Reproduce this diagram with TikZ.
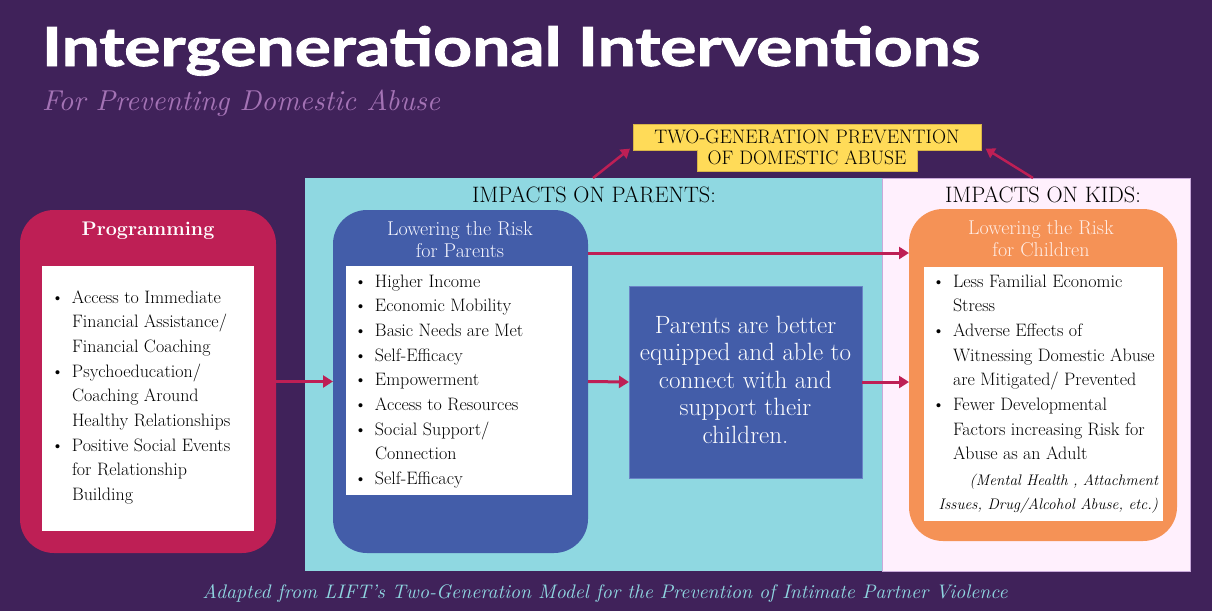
\documentclass[tikz,border=0pt]{standalone}
\usepackage{fontspec}
\usepackage{graphicx}
\usetikzlibrary{arrows.meta,calc}
\newfontfamily\titlefont{Lato}[BoldFeatures={FakeBold=1.5}]
\definecolor{bgpurple}{HTML}{40225A}
\definecolor{crimson}{HTML}{BE1F55}
\definecolor{royal}{HTML}{435DA9}
\definecolor{royaledge}{HTML}{6A84C6}
\definecolor{orangebox}{HTML}{F59256}
\definecolor{cyanpanel}{HTML}{8FD8E1}
\definecolor{pinkpanel}{HTML}{FFF0FD}
\definecolor{pinkedge}{HTML}{C9A9DA}
\definecolor{goalyellow}{HTML}{FFDB58}
\definecolor{goaledge}{HTML}{D8B548}
\definecolor{lavender}{HTML}{A473B5}
\definecolor{footcyan}{HTML}{8FD5E0}
\definecolor{kidtitle}{HTML}{FFEDE6}
\definecolor{partitle}{HTML}{F6F6FF}
\newcommand{\ctab}[1]{\begin{tabular}[t]{@{}c@{}}#1\end{tabular}}
\newcommand{\rtab}[1]{\begin{tabular}[t]{@{}r@{}}#1\end{tabular}}
\newcommand{\btab}[1]{\begin{tabular}[t]{@{}l@{}l@{}}#1\end{tabular}}
\newcommand{\bl}{\makebox[21pt][l]{\textbullet}}
\begin{document}
\begin{tikzpicture}[x=1pt,y=-1pt,
  panel/.style={anchor=north west, inner sep=0, outer sep=0},
  rbox/.style={anchor=north west, inner sep=0, outer sep=0, rounded corners=34pt},
  wbox/.style={anchor=north west, inner sep=0, outer sep=0, fill=white},
  txt/.style={inner sep=0, outer sep=0},
  listtxt/.style={txt, anchor=base west, font=\fontsize{18}{24.7}\selectfont},
  boxtitle/.style={txt, anchor=base, font=\fontsize{20}{22}\selectfont},
  conn/.style={draw=crimson, line width=3pt, -{Triangle[length=10pt,width=12pt]}},
  diag/.style={draw=crimson, line width=2.5pt, -{Triangle[length=9pt,width=11pt]}},
  goalbox/.style={fill=goalyellow, draw=goaledge, line width=0.6pt, inner sep=0}
]
\fill[bgpurple] (0,0) rectangle (1212,611);
\useasboundingbox (0,0) rectangle (1212,611);

% title
\node[txt, anchor=base west, text=white] (title) at (42,66)
  {\resizebox{938pt}{40pt}{\titlefont\bfseries Intergenerational Interventions}};
\node[txt, anchor=base west, text=lavender] (subtitle) at (42,110)
  {\resizebox{398pt}{!}{\itshape For Preventing Domestic Abuse}};

% panels
\node[panel, fill=cyanpanel, minimum width=577pt, minimum height=393pt] (ppanel) at (305,178) {};
\node[panel, fill=pinkpanel, draw=pinkedge, line width=1pt, minimum width=308pt, minimum height=393pt] (kpanel) at (882,178) {};
\node[txt, anchor=base, font=\fontsize{22.3}{24}\selectfont] (plabel) at (594,202) {IMPACTS ON PARENTS:};
\node[txt, anchor=base, font=\fontsize{22.3}{24}\selectfont] (klabel) at (1043,202) {IMPACTS ON KIDS:};

% goal
\node[goalbox, minimum width=348pt, minimum height=26pt, anchor=north west] (goal1) at (633,124) {};
\node[goalbox, minimum width=220pt, minimum height=21pt, anchor=north west] (goal2) at (697,150) {};
\fill[goalyellow] (697.5,148) rectangle (916.5,151);
\node[txt, anchor=base, font=\fontsize{19.5}{20}\selectfont] (goalt1) at (807,143) {TWO-GENERATION PREVENTION};
\node[txt, anchor=base, font=\fontsize{19.5}{20}\selectfont] (goalt2) at (807,164) {OF DOMESTIC ABUSE};

% programming
\node[rbox, fill=crimson, minimum width=256pt, minimum height=343pt] (prog) at (20,210) {};
\node[txt, anchor=base, text=white, font=\fontsize{19.7}{24}\selectfont\bfseries] (progt) at (148,235) {Programming};
\node[wbox, minimum width=212pt, minimum height=265pt] (progw) at (42,266) {};
\node[listtxt] (progl) at (51,303) {\btab{%
\bl & Access to Immediate\\
 & Financial Assistance/\\
 & Financial Coaching\\
\bl & Psychoeducation/\\
 & Coaching Around\\
 & Healthy Relationships\\
\bl & Positive Social Events\\
 & for Relationship\\
 & Building}};

% parents
\node[rbox, fill=royal, minimum width=255pt, minimum height=343pt] (par) at (333,210) {};
\node[boxtitle, text=partitle] (part) at (460,235) {\ctab{Lowering the Risk\\for Parents}};
\node[wbox, minimum width=226pt, minimum height=229pt] (parw) at (346,266) {};
\node[listtxt] (parl) at (354,287) {\btab{%
\bl & Higher Income\\
\bl & Economic Mobility\\
\bl & Basic Needs are Met\\
\bl & Self-Efficacy\\
\bl & Empowerment\\
\bl & Access to Resources\\
\bl & Social Support/\\
 & Connection\\
\bl & Self-Efficacy}};

% middle
\node[panel, fill=royal, draw=royaledge, line width=1pt, minimum width=233pt, minimum height=192pt] (mid) at (629,286) {};
\node[txt, anchor=base, text=white, font=\fontsize{25}{27.5}\selectfont] (midt) at (745.5,333)
  {\ctab{Parents are better\\equipped and able to\\connect with and\\support their\\children.}};

% kids
\node[rbox, fill=orangebox, minimum width=268pt, minimum height=332pt] (kid) at (909,209) {};
\node[boxtitle, text=kidtitle] (kidt) at (1041,234) {\ctab{Lowering the Risk\\for Children}};
\node[wbox, minimum width=239pt, minimum height=254pt] (kidw) at (924,267) {};
\node[listtxt] (kidl) at (932,287) {\btab{%
\bl & Less Familial Economic\\
 & Stress\\
\bl & Adverse Effects of\\
 & Witnessing Domestic Abuse\\
 & are Mitigated/ Prevented\\
\bl & Fewer Developmental\\
 & Factors increasing Risk for\\
 & Abuse as an Adult}};
\node[txt, anchor=base east, font=\fontsize{15.3}{24.7}\selectfont\itshape] (kidn) at (1158,485)
  {\rtab{(Mental Health , Attachment\\Issues, Drug/Alcohol Abuse, etc.)}};

% footer
\node[txt, anchor=base, text=footcyan] (foot) at (605,598)
  {\resizebox{805pt}{!}{\itshape Adapted from LIFT's Two-Generation Model for the Prevention of Intimate Partner Violence}};

% connectors
\coordinate (ytop) at (0,253);
\draw[conn] (prog.east) -- (par.west);
\draw[conn] (par.east) -- (mid.west);
\draw[conn] (mid.east) -- (mid.east -| kid.west);
\draw[conn] (par.east |- ytop) -- (kid.west |- ytop);
\coordinate (dl) at (593,178);
\coordinate (dr) at (1033,178);
\draw[diag] (dl) -- ($(goal1.south west)+(-3,-2)$);
\draw[diag] (dr) -- ($(goal1.south east)+(4,-2)$);
\end{tikzpicture}
\end{document}
